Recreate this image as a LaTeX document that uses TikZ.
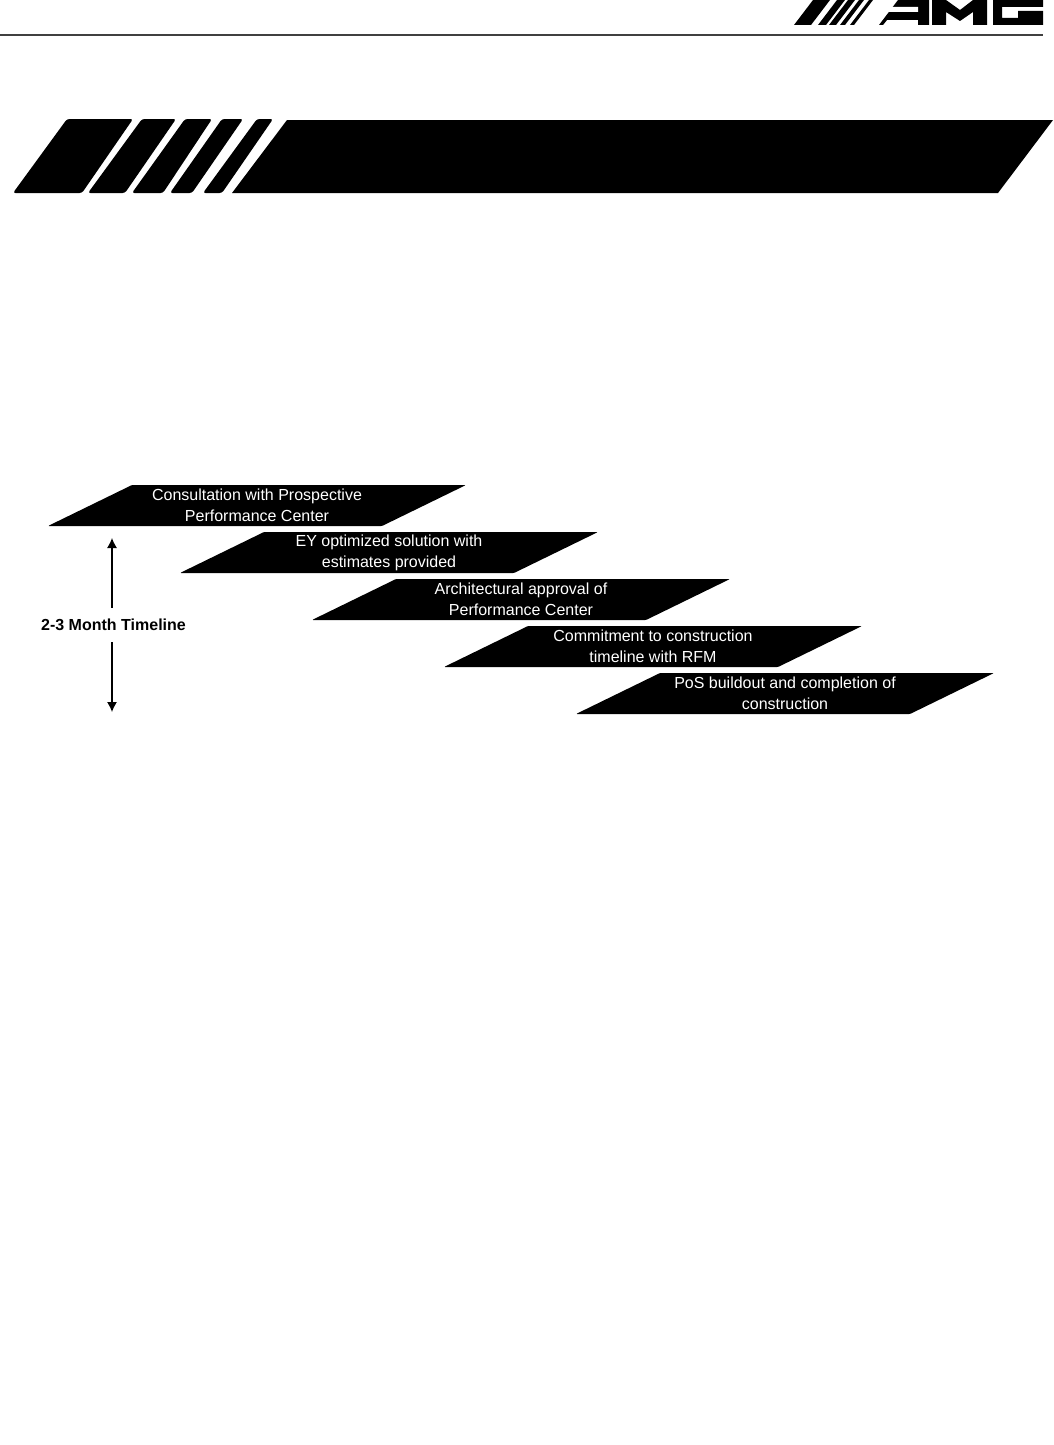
\documentclass[tikz,border=0pt]{standalone}
\usepackage{fontspec}
\setmainfont{Liberation Sans}
\usetikzlibrary{arrows.meta}
\tikzset{
  band/.style={fill=black,draw=none,rounded corners=2.5pt},
  logo/.style={fill=black,draw=none},
  paratext/.style={text=white,align=center,inner sep=0pt,font=\fontsize{16}{21}\selectfont},
  steplabel/.style={font=\fontsize{16}{18}\bfseries\selectfont,minimum height=34pt,inner sep=0pt},
  timearrow/.style={draw=black,line width=1.2pt,-{Latex[length=10pt,width=10pt]}}
}
\newcommand{\parablock}[4]{%
  \fill[black,rounded corners=1pt] (#2,#3+41) -- (#2+84,#3) -- (#2+418,#3) -- (#2+334,#3+41) -- cycle;
  \node[paratext] (#1) at (#2+209,#3+20.5) {#4};
}
\begin{document}
\begin{tikzpicture}[x=1pt,y=-1pt]
\useasboundingbox (0,0) rectangle (1054,1445);
\fill[white] (0,0) rectangle (1054,1445);
% header logo: stripes
\fill[logo] (794,25) -- (813,0) -- (830,0) -- (811,25) -- cycle;
\fill[logo] (818,25) -- (837,0) -- (845,0) -- (826,25) -- cycle;
\fill[logo] (829,25) -- (848,0) -- (855,0) -- (836,25) -- cycle;
\fill[logo] (840,25) -- (859,0) -- (864,0) -- (845,25) -- cycle;
\fill[logo] (850,25) -- (869,0) -- (873,0) -- (854,25) -- cycle;
% A
\fill[logo] (879,25) -- (898,0) -- (929,0) -- (929,25) -- (918,25) -- (918,20) -- (887,20) -- (883,25) -- cycle;
\fill[white] (892,7) -- (918,7) -- (918,12) -- (888,12) -- cycle;
% M
\fill[logo] (932,25) -- (932,0) -- (946,0) -- (960,10) -- (973,0) -- (987,0) -- (987,25) -- (973,25) -- (973,12) -- (960,21) -- (946,12) -- (946,25) -- cycle;
% G
\fill[logo] (993,0) -- (1043,0) -- (1043,7) -- (1002,7) -- (1002,18) -- (1018,18) -- (1018,11) -- (1043,11) -- (1043,25) -- (993,25) -- cycle;
\draw[draw=black!75,line width=2pt] (0,35.5) -- (1043,35.5);
% banner
\fill[band] (13,193) -- (67,119) -- (133,119) -- (82,193) -- cycle;
\fill[band] (88,193) -- (142,119) -- (176,119) -- (125,193) -- cycle;
\fill[band] (132,193) -- (185,119) -- (212,119) -- (163,193) -- cycle;
\fill[band] (170,193) -- (222,119) -- (243,119) -- (192,193) -- cycle;
\fill[band] (203,193) -- (257,119) -- (273,119) -- (222,193) -- cycle;
\fill[logo] (232,193) -- (287,120) -- (1053,120) -- (998,193) -- cycle;
% process steps
\parablock{s1}{48}{485}{Consultation with Prospective\\Performance Center}
\parablock{s2}{180}{532}{EY optimized solution with\\estimates provided}
\parablock{s3}{312}{579}{Architectural approval of\\Performance Center}
\parablock{s4}{444}{626}{Commitment to construction\\timeline with RFM}
\parablock{s5}{576}{673}{PoS buildout and completion of\\construction}
% timeline
\node[steplabel] (tl) at (113.5,625) {2-3 Month Timeline};
\coordinate (tltop) at (112,538);
\coordinate (tlbot) at (112,712);
\draw[timearrow] (tl.north -| tltop) -- (tltop);
\draw[timearrow] (tl.south -| tlbot) -- (tlbot);
\end{tikzpicture}
\end{document}
